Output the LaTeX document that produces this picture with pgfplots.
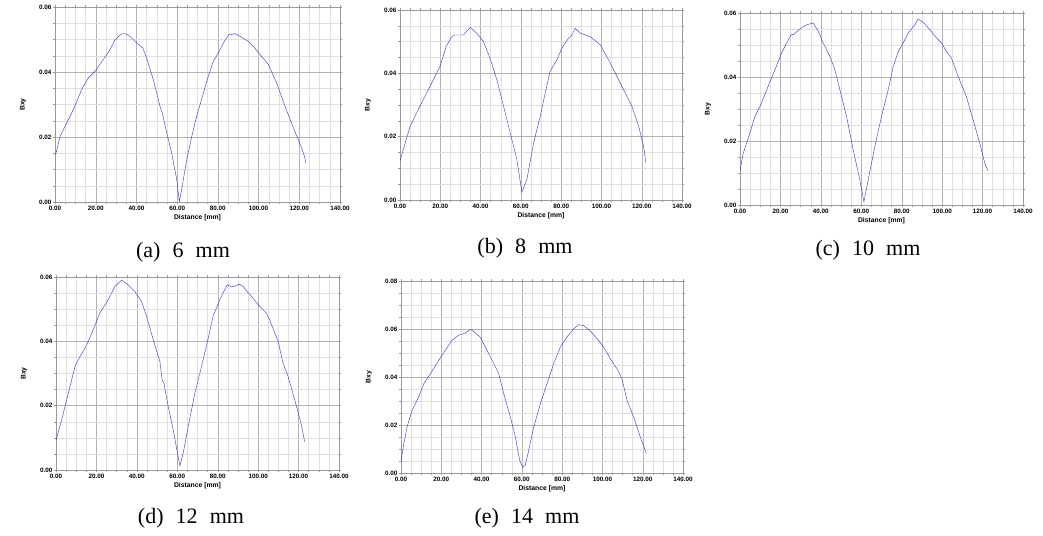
\documentclass[border=0pt]{standalone}
\usepackage{fontspec}
\setmainfont{Liberation Serif}
\setsansfont{Liberation Sans}
\usepackage{pgfplots}
\pgfplotsset{compat=1.18}

\definecolor{trace}{RGB}{45,45,210}

\pgfplotsset{
  panel/.style={
    scale only axis,
    xmin=0, xmax=140, ymin=0,
    xtick distance=20, ytick distance=0.02,
    minor x tick num=3, minor y tick num=3,
    scaled y ticks=false,
    grid=both,
    major grid style={gray!60, line width=0.4pt},
    minor grid style={gray!25, line width=0.4pt},
    axis line style={gray!80},
    tick align=outside,
    major tick length=2pt, minor tick length=2pt,
    tick style={gray!80, line width=0.4pt},
    /pgf/number format/assume math mode=true,
    ticklabel style={font=\fontsize{6.3}{7}\selectfont\sffamily\bfseries, inner sep=1.5pt},
    xticklabel style={/pgf/number format/.cd, fixed, fixed zerofill, precision=2},
    yticklabel style={/pgf/number format/.cd, fixed, fixed zerofill, precision=2},
    xlabel={Distance [mm]}, ylabel={Bxy},
    every axis x label/.style={at={(axis description cs:0.5,0)}, yshift=-16pt, anchor=center,
      font=\fontsize{6.8}{7}\selectfont\sffamily\bfseries},
    every axis y label/.style={at={(axis description cs:0,0.5)}, xshift=-32pt, rotate=90, anchor=center,
      font=\fontsize{6.8}{7}\selectfont\sffamily\bfseries},
    no markers,
    cycle list={{trace, line width=0.8pt}},
  }
}

\begin{document}
\begin{tikzpicture}[x=1pt,y=1pt]
\useasboundingbox (0,0) rectangle (1043,535);

% (a) 6 mm
\begin{axis}[panel, at={(55pt,333pt)}, anchor=south west, width=285pt, height=195pt, ymax=0.06]
\addplot coordinates {(0.3,0.0146)(2.5,0.0202)(9,0.0284)(13.1,0.0346)(16.4,0.0382)(19.6,0.0402)
(23.7,0.0438)(27,0.0469)(29.5,0.0499)(32.7,0.0517)(34.4,0.0518)(36.8,0.0510)(40.1,0.0489)
(43.1,0.0474)(45,0.0443)(48.3,0.0376)(51.6,0.0294)(52.7,0.0274)(54.9,0.0212)(57.3,0.0151)
(59.8,0.0069)(61.1,0.0002)(62.2,0.0038)(64.7,0.0130)(67.2,0.0202)(69.6,0.0264)(72.9,0.0335)
(75.3,0.0387)(77.8,0.0433)(80.2,0.0458)(82.7,0.0489)(85.6,0.0517)(86.5,0.0515)(88.4,0.0518)
(90.9,0.0510)(95,0.0494)(97.4,0.0479)(101.5,0.0448)(104.8,0.0423)(108.9,0.0366)(113,0.0294)
(117.1,0.0228)(121.2,0.0166)(122.8,0.0135)(123.1,0.0120)};
\end{axis}

% (b) 8 mm
\begin{axis}[panel, at={(400pt,335pt)}, anchor=south west, width=282pt, height=190pt, ymax=0.06]
\addplot coordinates {(0,0.0123)(5,0.0233)(9.9,0.0296)(14.9,0.0359)(19.9,0.0422)(22.9,0.0485)
(25.7,0.0516)(27.3,0.0521)(31.5,0.0521)(34.8,0.0545)(38.1,0.0527)(41.4,0.0500)(44.7,0.0448)
(48.05,0.0380)(51.4,0.0296)(54.7,0.0212)(58,0.0128)(60.5,0.0025)(63,0.0065)(66.3,0.0180)
(69.6,0.0264)(72.1,0.0338)(74.5,0.0406)(77.9,0.0443)(80.4,0.0480)(83.7,0.0511)(85.3,0.0521)
(87,0.0542)(89.5,0.0527)(94.4,0.0516)(99.4,0.0490)(103.5,0.0443)(107.7,0.0390)(111.8,0.0338)
(115.1,0.0296)(118.5,0.0233)(120.9,0.0170)(122.1,0.0117)};
\end{axis}

% (c) 10 mm
\begin{axis}[panel, at={(740pt,330pt)}, anchor=south west, width=283pt, height=192pt, ymax=0.06]
\addplot coordinates {(0,0.0104)(0.5,0.0125)(1.6,0.0162)(4.1,0.0209)(7.4,0.0277)(9.9,0.0308)
(13.2,0.0360)(17.3,0.0423)(20.6,0.0475)(23.9,0.0516)(25.5,0.0534)(26.4,0.0532)(29.6,0.0550)
(32.9,0.0563)(36.2,0.0569)(38.7,0.0543)(41.2,0.0506)(44.5,0.0464)(46.9,0.0423)(49.4,0.0360)
(52.7,0.0277)(56,0.0172)(59.3,0.0078)(61.3,0.0010)(63.4,0.0078)(66.7,0.0183)(70,0.0277)
(73.3,0.0360)(75.8,0.0433)(78.3,0.0480)(80.7,0.0506)(83.2,0.0537)(86.5,0.0563)(88.1,0.0581)
(90.6,0.0571)(93.9,0.0548)(97.2,0.0522)(99.7,0.0506)(102.1,0.0480)(104.6,0.0459)(107.9,0.0402)
(112,0.0339)(115.3,0.0266)(118.6,0.0193)(121.1,0.0130)(122.7,0.0107)};
\end{axis}

% (d) 12 mm
\begin{axis}[panel, at={(56pt,65pt)}, anchor=south west, width=283pt, height=193pt, ymax=0.06]
\addplot coordinates {(0,0.0093)(2.8,0.0156)(6.1,0.0239)(9.4,0.0322)(11.9,0.0353)(15.2,0.0389)
(18.4,0.0436)(21.7,0.0488)(25,0.0521)(26.7,0.0540)(29.2,0.0571)(32.4,0.0590)(35.7,0.0576)
(39,0.0555)(42.3,0.0524)(44.8,0.0478)(48.1,0.0405)(51.4,0.0337)(52.5,0.0280)(53.4,0.0270)
(55.5,0.0197)(58,0.0125)(60.1,0.0052)(61.3,0.0013)(62.9,0.0052)(65.4,0.0135)(68.7,0.0239)
(72,0.0322)(75.3,0.0410)(77.7,0.0478)(81,0.0529)(83.5,0.0561)(84.8,0.0576)(86.8,0.0569)
(88.5,0.0571)(90.6,0.0578)(92.6,0.0571)(94.2,0.0557)(96.7,0.0540)(100,0.0514)(104.1,0.0488)
(105.7,0.0467)(108.2,0.0426)(109.9,0.0400)(112.3,0.0332)(114.8,0.0291)(118.1,0.0218)
(121.4,0.0140)(123,0.0088)};
\end{axis}

% (e) 14 mm
\begin{axis}[panel, at={(401pt,62pt)}, anchor=south west, width=282pt, height=192pt, ymax=0.08]
\addplot coordinates {(0,0.0046)(0.8,0.0094)(3,0.0192)(5.5,0.0261)(8.8,0.0317)(11.3,0.0372)
(14.6,0.0414)(18.7,0.0469)(22,0.0511)(25.3,0.0553)(28.6,0.0574)(31.9,0.0583)(34.4,0.0598)
(36.1,0.0590)(39.4,0.0565)(42.7,0.0511)(46,0.0456)(48.5,0.0414)(51,0.0331)(54.3,0.0233)
(56.8,0.0150)(58.9,0.0053)(60.4,0.0025)(61.7,0.0032)(63.4,0.0094)(65.9,0.0192)(69.2,0.0289)
(72.5,0.0372)(75.8,0.0456)(79.1,0.0525)(82.4,0.0567)(85.7,0.0601)(88.2,0.0618)(90.7,0.0614)
(94,0.0592)(97.3,0.0560)(100.6,0.0525)(103.9,0.0476)(107.2,0.0435)(109.7,0.0393)(112.2,0.0303)
(115.5,0.0233)(118.8,0.0150)(121.8,0.0081)};
\end{axis}

\begin{scope}[every node/.style={font=\fontsize{22}{24}\selectfont, inner sep=0pt}]
\node at (183,283) {(a)\hspace{0.55em}6\hspace{0.55em}mm};
\node at (525,287) {(b)\hspace{0.55em}8\hspace{0.55em}mm};
\node at (868,285) {(c)\hspace{0.55em}10\hspace{0.55em}mm};
\node at (191,17) {(d)\hspace{0.55em}12\hspace{0.55em}mm};
\node at (527,17) {(e)\hspace{0.55em}14\hspace{0.55em}mm};
\end{scope}
\end{tikzpicture}
\end{document}
